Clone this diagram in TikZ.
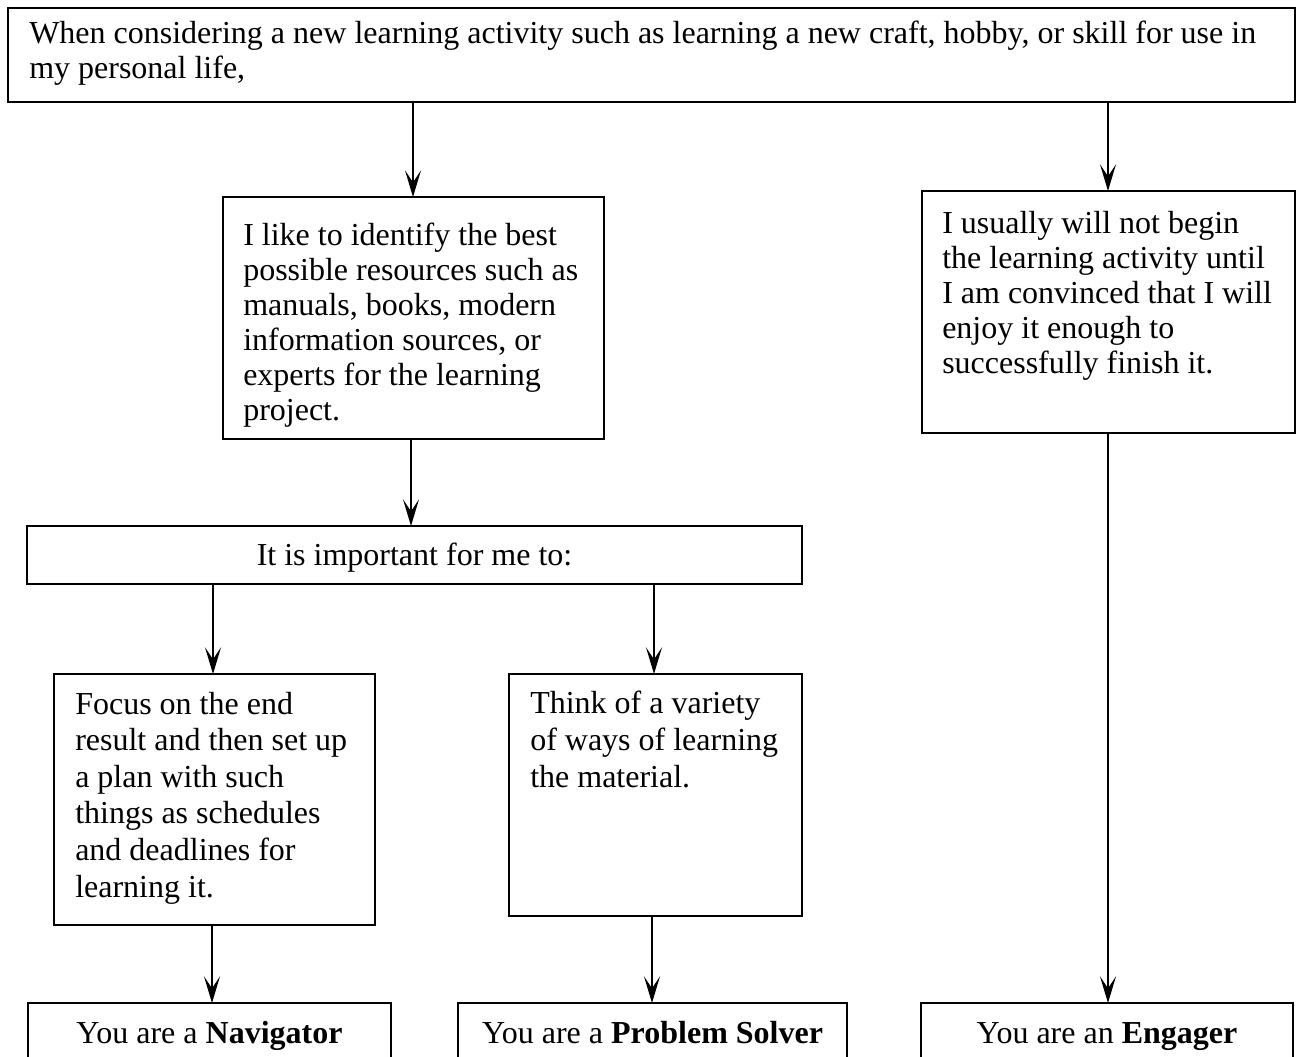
\documentclass[tikz,border=0pt]{standalone}
\usepackage{fontspec}
\setmainfont{Liberation Serif}
\usetikzlibrary{arrows.meta}
\begin{document}
\begin{tikzpicture}[x=0.75pt,y=-0.75pt,
  box/.style={draw, line width=1.5pt, inner sep=0pt, outer sep=0pt, anchor=north west},
  txt/.style={inner sep=0pt, align=left, anchor=base west, font=\fontsize{24}{26.25}\selectfont},
  ctxt/.style={inner sep=0pt, align=center, anchor=base, font=\fontsize{24}{26.25}\selectfont},
  arr/.style={line width=1.6pt, -{Stealth[length=20pt, width=12pt, inset=9pt]}}]
\path[use as bounding box] (0,0) rectangle (1297,1057);
\fill[white] (0,0) rectangle (1297,1057);
\clip (0,0) rectangle (1297,1057);

% boxes
\node[box, minimum width=1287*0.75pt, minimum height=94*0.75pt] (T) at (8,8) {};
\node[box, minimum width=381*0.75pt, minimum height=242*0.75pt] (A) at (223,197) {};
\node[box, minimum width=373*0.75pt, minimum height=242*0.75pt] (B) at (922,191) {};
\node[box, minimum width=775*0.75pt, minimum height=58*0.75pt] (C) at (27,526) {};
\node[box, minimum width=321*0.75pt, minimum height=251*0.75pt] (D) at (54,674) {};
\node[box, minimum width=293*0.75pt, minimum height=242*0.75pt] (E) at (509,674) {};
\node[box, minimum width=363*0.75pt, minimum height=90*0.75pt] (N) at (28,1003) {};
\node[box, minimum width=389*0.75pt, minimum height=90*0.75pt] (P) at (458,1003) {};
\node[box, minimum width=372*0.75pt, minimum height=90*0.75pt] (G) at (921,1003) {};

% texts (anchor at baseline of the last line)
\node[txt] (Tt) at (29,78) {When considering a new learning activity such as learning a new craft, hobby, or skill for use in\\my personal life,};
\node[txt] (At) at (243,420) {I like to identify the best\\possible resources such as\\manuals, books, modern\\information sources, or\\experts for the learning\\project.};
\node[txt] (Bt) at (942,373) {I usually will not begin\\the learning activity until\\I am convinced that I will\\enjoy it enough to\\successfully finish it.};
\node[ctxt] (Ct) at (414.5,565) {It is important for me to:};
\node[txt, font=\fontsize{24}{27.4}\selectfont] (Dt) at (75,897) {Focus on the end\\result and then set up\\a plan with such\\things as schedules\\and deadlines for\\learning it.};
\node[txt, font=\fontsize{24}{27.75}\selectfont] (Et) at (530,787) {Think of a variety\\of ways of learning\\the material.};
\node[ctxt] (Nt) at (209.5,1043) {You are a \textbf{Navigator}};
\node[ctxt] (Pt) at (652.5,1043) {You are a \textbf{Problem Solver}};
\node[ctxt] (Gt) at (1107,1043) {You are an \textbf{Engager}};

% connector x positions
\coordinate (x1) at (413,0);
\coordinate (x2) at (1108,0);
\coordinate (x3) at (411,0);
\coordinate (x4) at (213,0);
\coordinate (x5) at (654,0);
\coordinate (x6) at (212,0);
\coordinate (x7) at (652,0);

\draw[arr] (T.south -| x1) -- (A.north -| x1);
\draw[arr] (T.south -| x2) -- (B.north -| x2);
\draw[arr] (A.south -| x3) -- (C.north -| x3);
\draw[arr] (C.south -| x4) -- (D.north -| x4);
\draw[arr] (C.south -| x5) -- (E.north -| x5);
\draw[arr] (D.south -| x6) -- (N.north -| x6);
\draw[arr] (E.south -| x7) -- (P.north -| x7);
\draw[arr] (B.south -| x2) -- (G.north -| x2);
\end{tikzpicture}
\end{document}
